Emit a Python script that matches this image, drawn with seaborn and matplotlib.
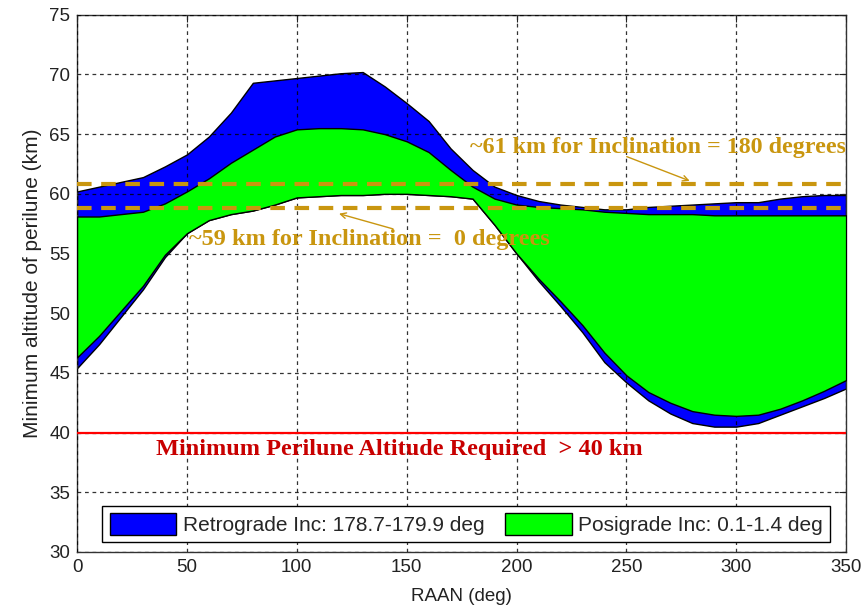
import numpy as np
import pandas as pd
import matplotlib
matplotlib.use("Agg")
import matplotlib.pyplot as plt
import seaborn as sns
from matplotlib.patches import Patch

# ==============================
# data (RAAN in deg, altitude in km)
# ==============================
raan = [0, 10, 20, 30, 40, 50, 60, 70, 80, 90, 100, 110, 120, 130, 140, 150, 160, 170,
        180, 190, 200, 210, 220, 230, 240, 250, 260, 270, 280, 290, 300, 310, 320, 330, 340, 350]

retro_top = [60.2, 60.6, 61.0, 61.4, 62.3, 63.3, 64.8, 66.8, 69.3, 69.5, 69.7, 69.9, 70.1,
             70.2, 69.0, 67.6, 66.1, 63.8, 62.0, 60.6, 59.9, 59.4, 59.1, 58.9, 58.7, 58.7,
             58.9, 59.0, 59.1, 59.2, 59.3, 59.3, 59.6, 59.8, 59.9, 59.9]
retro_bot = [45.4, 47.4, 49.7, 52.0, 54.7, 56.7, 57.8, 58.3, 58.6, 59.1, 59.7, 59.8, 59.9,
             59.9, 60.0, 60.0, 59.9, 59.8, 59.6, 57.4, 55.0, 52.7, 50.6, 48.4, 45.9, 44.2,
             42.7, 41.6, 40.8, 40.5, 40.5, 40.8, 41.5, 42.2, 42.9, 43.7]

posi_top = [58.1, 58.1, 58.3, 58.5, 59.2, 60.2, 61.3, 62.6, 63.7, 64.8, 65.4, 65.5, 65.5,
            65.4, 65.0, 64.4, 63.5, 62.0, 60.6, 59.6, 59.1, 58.9, 58.8, 58.7, 58.5, 58.4,
            58.3, 58.3, 58.3, 58.2, 58.2, 58.2, 58.2, 58.2, 58.2, 58.2]
posi_bot = [46.3, 48.1, 50.2, 52.3, 54.9, 56.7, 57.8, 58.3, 58.6, 59.1, 59.7, 59.8, 59.9,
            59.9, 60.0, 60.0, 59.9, 59.8, 59.6, 57.4, 55.0, 52.9, 51.0, 49.0, 46.7, 44.8,
            43.4, 42.5, 41.8, 41.5, 41.4, 41.5, 42.0, 42.7, 43.5, 44.4]

inc180_alt = 60.8
inc0_alt = 58.8
min_alt = 40

df = pd.DataFrame({"raan": raan, "retro_top": retro_top, "retro_bot": retro_bot,
                   "posi_top": posi_top, "posi_bot": posi_bot})

# ==============================
# style
# ==============================
sns.set_style("white")
plt.rcParams["font.family"] = ["Liberation Sans", "DejaVu Sans"]

gold = "#c9960f"
dark_red = "#c80000"

fig = plt.figure(figsize=(8.66, 6.14), dpi=100)
ax = fig.add_axes([0.089, 0.101, 0.888, 0.875])

# bands
ax.fill_between(df["raan"], df["retro_bot"], df["retro_top"], facecolor="#0000ff",
                edgecolor="black", linewidth=1, zorder=2)
ax.fill_between(df["raan"], df["posi_bot"], df["posi_top"], facecolor="#00ff00",
                edgecolor="black", linewidth=1, zorder=3)

# reference lines
ref = pd.DataFrame({"raan": [0, 350]})
sns.lineplot(x=ref["raan"], y=[min_alt] * 2, color="red", linewidth=1.6, ax=ax, zorder=4)
for alt in [inc180_alt, inc0_alt]:
    sns.lineplot(x=ref["raan"], y=[alt] * 2, color=gold, linewidth=3, ax=ax,
                 dashes=False, zorder=6).lines[-1].set_dashes((3.5, 2.3))

ax.set_xlim(0, 350)
ax.set_ylim(30, 75)
ax.set_xticks(np.arange(0, 351, 50))
ax.set_yticks(np.arange(30, 76, 5))
ax.grid(True, color="black", linestyle=(0, (3, 3)), linewidth=0.9, alpha=0.8, zorder=5)
ax.set_axisbelow(False)
ax.tick_params(direction="in", length=5, top=True, right=True, labelsize=13.5,
               colors="#222222", pad=5)
for s in ax.spines.values():
    s.set_color("#333333")
    s.set_linewidth(1)
ax.set_xlabel("RAAN (deg)", fontsize=13.5, color="#222222", labelpad=9)
ax.set_ylabel("Minimum altitude of perilune (km)", fontsize=15, color="#222222", labelpad=5)

# annotations
serif = ["Liberation Serif", "DejaVu Serif"]
ax.text(179, 63.85, "~61 km for Inclination = 180 degrees", color=gold, fontsize=17.3,
        fontweight="bold", family=serif, va="center", ha="left", zorder=7)
ax.annotate("", xy=(280, 61.0), xytext=(249, 63.2),
            arrowprops=dict(arrowstyle="->", color=gold, lw=1), zorder=7)
ax.text(51, 56.15, "~59 km for Inclination =  0 degrees", color=gold, fontsize=17.5,
        fontweight="bold", family=serif, va="center", ha="left", zorder=7)
ax.annotate("", xy=(118, 58.4), xytext=(145, 57.0),
            arrowprops=dict(arrowstyle="->", color=gold, lw=1), zorder=7)
ax.text(36, 38.6, "Minimum Perilune Altitude Required  > 40 km", color=dark_red,
        fontsize=17.5, fontweight="bold", family=serif, va="center", ha="left", zorder=7)

# legend
handles = [Patch(facecolor="#0000ff", edgecolor="black", label="Retrograde Inc: 178.7-179.9 deg"),
           Patch(facecolor="#00ff00", edgecolor="black", label="Posigrade Inc: 0.1-1.4 deg")]
leg = ax.legend(handles=handles, loc="lower center", bbox_to_anchor=(0.506, 0.018), ncol=2,
                fontsize=15, handlelength=3.2, handleheight=1.2, handletextpad=0.3,
                columnspacing=1.0, borderpad=0.35, borderaxespad=0, frameon=True,
                fancybox=False, framealpha=1, edgecolor="black")
leg.get_frame().set_linewidth(1)
leg.set_zorder(10)

fig.savefig("out.png", dpi=100)
